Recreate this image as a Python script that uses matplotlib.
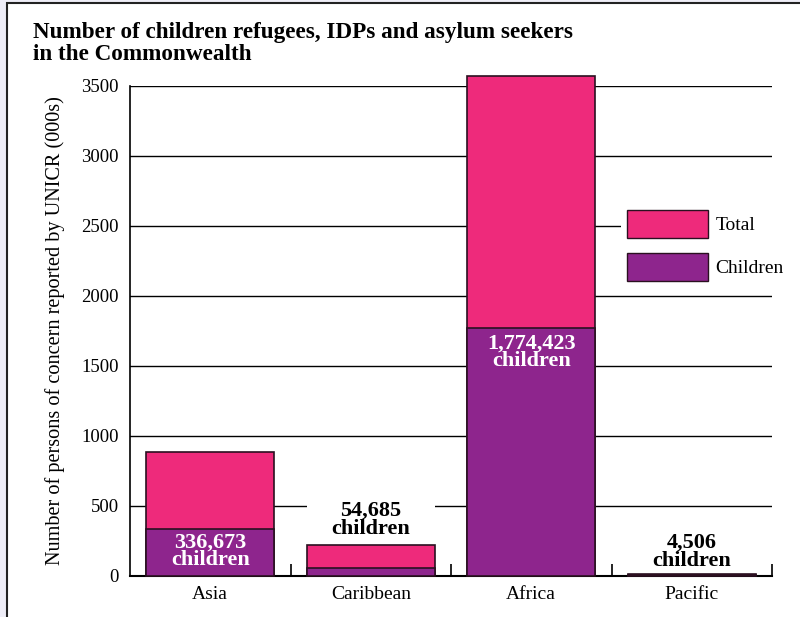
import matplotlib.pyplot as plt
from matplotlib.patches import Patch, Rectangle

# data (thousands)
regions = ["Asia", "Caribbean", "Africa", "Pacific"]
total = [886, 221, 3571, 14]
children = [336.673, 54.685, 1774.423, 4.506]
child_labels = ["336,673\nchildren", "54,685\nchildren", "1,774,423\nchildren", "4,506\nchildren"]

pink = "#ee2a7b"
purple = "#8e258d"
edge = "#2a1020"
serif = ["Liberation Serif", "DejaVu Serif"]

plt.rcParams['font.family'] = serif

fig = plt.figure(figsize=(8, 6.17), dpi=100)
fig.patch.set_facecolor("#eeedf7")
# white panel with dark frame on left/top
fig.patches.append(Rectangle((7 / 800, -0.1), 1.1, (617 - 3) / 617 + 0.1, transform=fig.transFigure,
                             facecolor="white", edgecolor="#222222", linewidth=1.5, zorder=-1))

ax = fig.add_axes([130 / 800, 1 - 576 / 617, (772 - 130) / 800, (576 - 86) / 617])
ax.set_facecolor("white")

x = range(len(regions))
ax.bar(x, total, width=0.8, color=pink, edgecolor=edge, linewidth=1.2, clip_on=False, zorder=2)
ax.bar(x, children, width=0.8, color=purple, edgecolor=edge, linewidth=1.2, clip_on=False, zorder=3)

ax.set_xlim(-0.5, 3.5)
ax.set_ylim(0, 3500)
ax.set_yticks(range(0, 3501, 500))
ax.set_xticks(list(x))
ax.set_xticklabels(regions, fontsize=14)
ax.set_xticks([0.5, 1.5, 2.5, 3.5], minor=True)
ax.tick_params(axis='x', which='major', length=0, pad=7)
ax.tick_params(axis='x', which='minor', direction='in', length=9, width=1.2)
ax.tick_params(axis='y', length=0, labelsize=13.5, pad=8)
ax.yaxis.grid(True, color="black", linewidth=1)
ax.set_axisbelow(True)
for s in ["top", "right"]:
    ax.spines[s].set_visible(False)
ax.spines["left"].set_linewidth(1.2)
ax.spines["bottom"].set_linewidth(1.5)

ax.set_ylabel("Number of persons of concern reported by UNICR (000s)", fontsize=14.6, labelpad=12)

# bar labels
lab = dict(ha='center', fontsize=16, fontweight='bold', linespacing=0.85, zorder=5)
ax.text(0, children[0] - 25, child_labels[0], va='top', color='white', **lab)
ax.text(2, children[2] - 40, child_labels[2], va='top', color='white', **lab)
ax.text(1, total[1] + 45, child_labels[1], va='bottom', color='black', **lab)
ax.text(3, total[3] + 25, child_labels[3], va='bottom', color='black', **lab)
# white backing behind the Caribbean label so the gridline breaks there
ax.add_patch(Rectangle((1 - 0.4, total[1] + 20), 0.8, 330, facecolor='white',
                       edgecolor='none', zorder=1.5))

handles = [Patch(facecolor=pink, edgecolor=edge, label="Total"),
           Patch(facecolor=purple, edgecolor=edge, label="Children")]
leg = ax.legend(handles=handles, loc='upper left', bbox_to_anchor=(0.765, 0.758), frameon=True,
                fontsize=14, handlelength=4.15, handleheight=1.8, labelspacing=0.78,
                handletextpad=0.4, borderpad=0.3, borderaxespad=0)
leg.get_frame().set_facecolor('white')
leg.get_frame().set_edgecolor('none')
leg.get_frame().set_alpha(1)

fig.text(33 / 800, 1 - 22 / 617, "Number of children refugees, IDPs and asylum seekers\nin the Commonwealth",
         ha='left', va='top', fontsize=16.7, fontweight='bold', linespacing=1.08)

fig.savefig("out.png", dpi=100, facecolor=fig.get_facecolor())
